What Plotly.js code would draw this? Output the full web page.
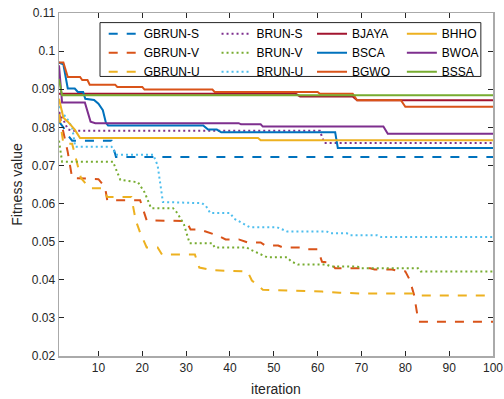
<!DOCTYPE html>
<html>
<head>
<meta charset="utf-8">
<script src="https://cdn.plot.ly/plotly-3.0.1.min.js"></script>
<style>html,body{margin:0;padding:0;background:#fff;}#chart{width:504px;height:399px;}</style>
</head>
<body>
<div id="chart"></div>
<script>
// ---- data (iteration breakpoints and fitness values) ----
const iterGBRUN_S = [1, 2, 3, 4, 13, 14, 100];
const valGBRUN_S  = [0.0815, 0.080, 0.078, 0.0765, 0.0765, 0.0722, 0.0722];

const iterGBRUN_V = [1, 2, 3, 4, 10, 11.5, 12, 19.5, 21, 30, 31, 33, 37, 39, 42, 44, 47, 48, 51, 52, 56, 57, 60, 61, 63, 64, 72, 73, 77, 78, 80, 81, 82, 83, 100];
const valGBRUN_V  = [0.084, 0.079, 0.0735, 0.0667, 0.0664, 0.0643, 0.0609, 0.0609, 0.0556, 0.0554, 0.0532, 0.0532, 0.0517, 0.0506, 0.0506, 0.0498, 0.0498, 0.049, 0.049, 0.0485, 0.0485, 0.048, 0.048, 0.0447, 0.0445, 0.043, 0.043, 0.0427, 0.0427, 0.0424, 0.0422, 0.040, 0.036, 0.029, 0.029];

const iterGBRUN_U = [1, 2, 4, 5, 6, 8, 11, 12, 17.5, 18.5, 19.5, 21, 23.5, 24.5, 32, 33, 36, 44, 45, 47.5, 55, 61, 65, 70, 82, 83, 100];
const valGBRUN_U  = [0.0835, 0.0757, 0.0757, 0.071, 0.0667, 0.064, 0.064, 0.0617, 0.0617, 0.0556, 0.0524, 0.0485, 0.0485, 0.0466, 0.0466, 0.0432, 0.0425, 0.0422, 0.0398, 0.0374, 0.0372, 0.0369, 0.0366, 0.0364, 0.0364, 0.0359, 0.0359];

const iterBRUN_S = [1, 2, 3, 4, 60.5, 61.5, 100];
const valBRUN_S  = [0.084, 0.082, 0.0795, 0.0791, 0.0791, 0.0759, 0.0759];

const iterBRUN_V = [1, 1.7, 13.3, 15, 19, 20.5, 22, 27, 28, 29.5, 30.8, 36, 36.5, 43.8, 44.5, 46.5, 48.5, 53, 54, 55.5, 62, 63, 69, 70, 82.9, 83.5, 100];
const valBRUN_V  = [0.0765, 0.071, 0.071, 0.0662, 0.0656, 0.063, 0.0588, 0.0588, 0.0575, 0.0545, 0.0496, 0.0496, 0.0485, 0.0485, 0.048, 0.0469, 0.0459, 0.0459, 0.0448, 0.044, 0.044, 0.0435, 0.0435, 0.043, 0.043, 0.0422, 0.0422];

const iterBRUN_U = [1, 2, 3, 4, 4.7, 13, 14, 22.5, 23.5, 24, 24.7, 33.6, 34.5, 35.5, 40, 41, 43.8, 44.5, 50.7, 53, 62, 63, 66.7, 67.5, 73.5, 74.5, 100];
const valBRUN_U  = [0.0855, 0.0835, 0.082, 0.080, 0.0749, 0.0749, 0.0728, 0.0728, 0.070, 0.066, 0.0604, 0.0601, 0.0594, 0.0575, 0.0575, 0.056, 0.0543, 0.0538, 0.0538, 0.0527, 0.0527, 0.0522, 0.0522, 0.0517, 0.0517, 0.0512, 0.0512];

const iterBJAYA = [1, 55, 56, 68, 69, 100];
const valBJAYA  = [0.0888, 0.0888, 0.0881, 0.0881, 0.0871, 0.0871];

const iterBSCA = [1, 2, 3, 4.6, 5.3, 6.5, 7, 9, 10, 11, 11.7, 12.2, 33.9, 35, 37, 38, 64, 64.6, 100];
const valBSCA  = [0.097, 0.0965, 0.0902, 0.0902, 0.0893, 0.0893, 0.0875, 0.0872, 0.0862, 0.0845, 0.0812, 0.0805, 0.0805, 0.0794, 0.0794, 0.0787, 0.0787, 0.0746, 0.0746];

const iterBGWO = [1, 2, 3, 5.8, 6.3, 7.5, 8, 13.8, 14.3, 20, 20.5, 36, 36.5, 60, 60.5, 68, 69, 79, 80, 100];
const valBGWO  = [0.097, 0.097, 0.0932, 0.0932, 0.0924, 0.0924, 0.0912, 0.0912, 0.0906, 0.0906, 0.0899, 0.0899, 0.0893, 0.0893, 0.0888, 0.0888, 0.0871, 0.0871, 0.0854, 0.0854];

const iterBHHO = [1, 2, 3, 4, 4.6, 5.8, 46.4, 47, 100];
const valBHHO  = [0.0875, 0.0825, 0.0815, 0.080, 0.0794, 0.0772, 0.0772, 0.0766, 0.0766];

const iterBWOA = [1, 1.7, 6.9, 8.2, 9.3, 42, 42.5, 47, 47.5, 75, 76, 100];
const valBWOA  = [0.0963, 0.0865, 0.0865, 0.0815, 0.0811, 0.0811, 0.0808, 0.0808, 0.0802, 0.0802, 0.0783, 0.0783];

const iterBSSA = [1, 1.7, 100];
const valBSSA  = [0.0926, 0.0884, 0.0884];

const xTicks = [10, 20, 30, 40, 50, 60, 70, 80, 90, 100];
const yTicks = [0.02, 0.03, 0.04, 0.05, 0.06, 0.07, 0.08, 0.09, 0.1, 0.11];
const yTickText = ['0.02', '0.03', '0.04', '0.05', '0.06', '0.07', '0.08', '0.09', '0.1', '0.11'];

// ---- styling ----
const C = {blue:'#0072BD', orange:'#D95319', yellow:'#EDB120', purple:'#7E2F8E', green:'#77AC30', cyan:'#4DBEEE', red:'#A2142F'};
const DASH = '9px,9px';
const DOT = '2px,3px';
function tr(name, x, y, color, dash, legend) {
  return {type:'scatter', mode:'lines', name:name, x:x, y:y, legend:legend,
          line:{color:color, width:2, dash:dash}, hoverinfo:'skip'};
}
const traces = [
  tr('GBRUN-S', iterGBRUN_S, valGBRUN_S, C.blue, DASH, 'legend'),
  tr('GBRUN-V', iterGBRUN_V, valGBRUN_V, C.orange, DASH, 'legend'),
  tr('GBRUN-U', iterGBRUN_U, valGBRUN_U, C.yellow, DASH, 'legend'),
  tr('BRUN-S', iterBRUN_S, valBRUN_S, C.purple, DOT, 'legend2'),
  tr('BRUN-V', iterBRUN_V, valBRUN_V, C.green, DOT, 'legend2'),
  tr('BRUN-U', iterBRUN_U, valBRUN_U, C.cyan, DOT, 'legend2'),
  tr('BJAYA', iterBJAYA, valBJAYA, C.red, 'solid', 'legend3'),
  tr('BSCA', iterBSCA, valBSCA, C.blue, 'solid', 'legend3'),
  tr('BGWO', iterBGWO, valBGWO, C.orange, 'solid', 'legend3'),
  tr('BHHO', iterBHHO, valBHHO, C.yellow, 'solid', 'legend4'),
  tr('BWOA', iterBWOA, valBWOA, C.purple, 'solid', 'legend4'),
  tr('BSSA', iterBSSA, valBSSA, C.green, 'solid', 'legend4')
];

const FONT = 'Liberation Sans, Arial, sans-serif';
function leg(x) {
  return {x:x, y:0.982, xanchor:'left', yanchor:'top', orientation:'v',
          bgcolor:'rgba(0,0,0,0)', borderwidth:0, font:{family:FONT, size:12, color:'#000'},
          itemwidth:30, tracegroupgap:0};
}
const axisCommon = {showline:true, linecolor:'#aaaaaa', linewidth:1.5, mirror:'ticks',
  ticks:'inside', ticklen:5, tickcolor:'#262626', tickwidth:1, showgrid:false, zeroline:false,
  tickfont:{family:FONT, size:12, color:'#262626'}};

const layout = {
  width:504, height:399,
  margin:{l:59, r:11, t:13, b:43},
  paper_bgcolor:'#fff', plot_bgcolor:'#fff',
  showlegend:true,
  xaxis:Object.assign({}, axisCommon, {range:[1,100], tickvals:xTicks, ticktext:xTicks.map(String),
    title:{text:'iteration', font:{family:FONT, size:14, color:'#262626'}, standoff:10}}),
  yaxis:Object.assign({}, axisCommon, {range:[0.02,0.11], tickvals:yTicks, ticktext:yTickText,
    title:{text:'Fitness value', font:{family:FONT, size:14, color:'#262626'}, standoff:6}}),
  legend:leg(0.103),
  legend2:leg(0.363),
  legend3:leg(0.583),
  legend4:leg(0.79),
  shapes:[{type:'rect', xref:'paper', yref:'paper', x0:0.0945, x1:0.972, y0:0.815, y1:0.972,
           line:{color:'#262626', width:1}, fillcolor:'#ffffff', layer:'above'}]
};
Plotly.newPlot('chart', traces, layout, {staticPlot:true, displayModeBar:false});
</script>
</body>
</html>
